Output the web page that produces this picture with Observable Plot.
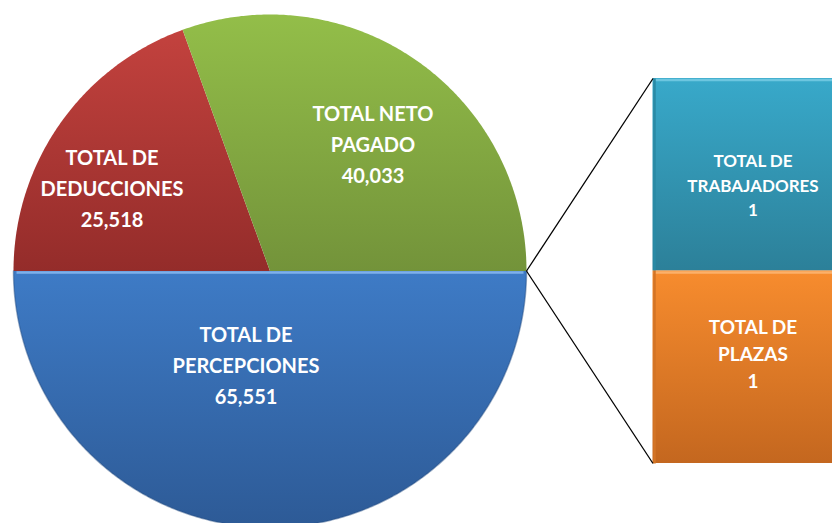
<!DOCTYPE html>
<html><head><meta charset="utf-8">
<script src="https://cdn.jsdelivr.net/npm/d3@7"></script>
<script src="https://cdn.jsdelivr.net/npm/@observablehq/plot@0.6"></script>
<style>
html,body{margin:0;padding:0;background:#fff;overflow:hidden;}
</style></head><body><div id="chart"></div>
<script>
// ---- data ----
const pieCategories = ["TOTAL DE DEDUCCIONES", "TOTAL NETO PAGADO", "TOTAL DE PERCEPCIONES"];
const pieLabels = ["TOTAL DE\nDEDUCCIONES", "TOTAL NETO\nPAGADO", "TOTAL DE\nPERCEPCIONES"];
const pieValues = [25518, 40033, 65551];
const barCategories = ["TOTAL DE TRABAJADORES", "TOTAL DE PLAZAS"];
const barLabels = ["TOTAL DE\nTRABAJADORES", "TOTAL DE\nPLAZAS"];
const barValues = [1, 1];

// ---- layout & style ----
const W = 832, H = 523;
const cx = 269.5, cy = 270.5, R = 256.5;
const barX = 652.5, barW = 200, barTotalH = 385;
const pieGrad = [["#c3423e", "#942c2a"], ["#93be49", "#73933a"], ["#3e7bc6", "#2d5a96"]];
const barGrad = [["#38a9ca", "#2c8099"], ["#f78c2e", "#c4671f"]];
const pieLabelOffset = [[-158, -85], [103, -129], [-24, 92]];
const barLabelOffset = [9, -15];
const barFont = [17, 19];
const barLineH = [1.45, 1.42];
const fmt = d3.format(",");

// pie geometry from values
const arcs = d3.pie().sort(null).startAngle(-Math.PI / 2).endAngle(3 * Math.PI / 2)(pieValues);
const slicePts = arcs.map((a, i) => {
  const pts = [{x: cx, y: cy}];
  const n = Math.max(2, Math.ceil((a.endAngle - a.startAngle) / (Math.PI / 360)));
  for (let k = 0; k <= n; k++) {
    const t = a.startAngle + (a.endAngle - a.startAngle) * k / n;
    pts.push({x: cx + R * Math.sin(t), y: cy - R * Math.cos(t)});
  }
  pts.push({x: cx, y: cy});
  return pts;
});
const pieText = pieCategories.map((c, i) => ({
  label: pieLabels[i] + "\n" + fmt(pieValues[i]),
  x: cx + pieLabelOffset[i][0], y: cy + pieLabelOffset[i][1]
}));

// bar-of-pie geometry from values
const unit = barTotalH / d3.sum(barValues);
const barTop = cy - barTotalH / 2;
const cum = [0, ...d3.cumsum(barValues)];
const barRects = barCategories.map((c, i) => ({
  cat: c, x1: barX, x2: barX + barW,
  y1: barTop + cum[i] * unit, y2: barTop + cum[i + 1] * unit,
  label: barLabels[i] + "\n" + fmt(barValues[i])
}));
const links = [
  {x1: cx + R, y1: cy, x2: barX, y2: barTop},
  {x1: cx + R, y1: cy, x2: barX, y2: barTop + barTotalH}
];

const marks = [];
slicePts.forEach((pts, i) => {
  marks.push(Plot.line(pts, {x: "x", y: "y", fill: `url(#pg${i})`, stroke: "none", curve: "linear"}));
});
// bevel highlights on slice top edges / outline
marks.push(Plot.line(slicePts[2].slice(1, -1), {x: "x", y: "y", stroke: "#244c80", strokeWidth: 1.5, strokeOpacity: 0.45}));
marks.push(Plot.link([{x1: cx - R + 3, x2: cx + R - 3, y1: cy + 1.5, y2: cy + 1.5}], {x1: "x1", x2: "x2", y1: "y1", y2: "y2", stroke: "#7fb0ea", strokeWidth: 2.5}));
barRects.forEach((b, i) => {
  marks.push(Plot.rect([b], {x1: "x1", x2: "x2", y1: "y1", y2: "y2", fill: `url(#bg${i})`}));
  marks.push(Plot.link([b], {x1: "x1", x2: "x2", y1: d => d.y1 + 1.5, y2: d => d.y1 + 1.5, stroke: i === 0 ? "#6cc6e0" : "#fbb06a", strokeWidth: 2.5}));
  marks.push(Plot.link([b], {x1: d => d.x1 + 1.5, x2: d => d.x1 + 1.5, y1: "y1", y2: "y2", stroke: i === 0 ? "#2a8aa5" : "#d37426", strokeWidth: 2.5}));
});
marks.push(Plot.link(links, {x1: "x1", y1: "y1", x2: "x2", y2: "y2", stroke: "#000", strokeWidth: 1.3}));
marks.push(Plot.text(pieText, {x: "x", y: "y", text: "label", fill: "#fff", fontSize: 20, fontWeight: "bold", lineHeight: 1.55, lineAnchor: "middle", textAnchor: "middle", fontFamily: "Lato"}));
barRects.forEach((b, i) => {
  marks.push(Plot.text([b], {x: d => d.x1 + 100, y: d => (d.y1 + d.y2) / 2 + barLabelOffset[i], text: "label", fill: "#fff", fontSize: barFont[i], fontWeight: "bold", lineHeight: barLineH[i], lineAnchor: "middle", textAnchor: "middle", fontFamily: "Lato"}));
});

const svg = Plot.plot({
  width: W, height: H, margin: 0,
  x: {domain: [0, W], range: [0, W], axis: null},
  y: {domain: [0, H], range: [0, H], axis: null},
  style: {background: "#fff", fontFamily: "Lato"},
  marks
});
const defs = d3.select(svg).insert("defs", ":first-child");
function grad(id, c) {
  const g = defs.append("linearGradient").attr("id", id).attr("x1", 0).attr("y1", 0).attr("x2", 0).attr("y2", 1);
  g.append("stop").attr("offset", "0%").attr("stop-color", c[0]);
  g.append("stop").attr("offset", "100%").attr("stop-color", c[1]);
}
pieGrad.forEach((c, i) => grad("pg" + i, c));
barGrad.forEach((c, i) => grad("bg" + i, c));
document.getElementById("chart").appendChild(svg);
</script></body></html>
